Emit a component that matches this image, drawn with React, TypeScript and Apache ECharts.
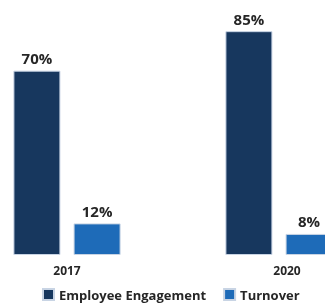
import React, { useEffect, useRef } from "react";
import * as echarts from "echarts";

const categories = ["2017", "2020"];
const engagement = [70, 85];
const turnover = [12, 8];
const seriesNames = ["Employee Engagement", "Turnover"];

export default function App() {
  const ref = useRef<HTMLDivElement>(null);
  useEffect(() => {
    const chart = echarts.init(ref.current!, null, { renderer: "svg" });
    const labelStyle = {
      show: true,
      position: "top",
      distance: 5,
      formatter: "{c}%",
      fontFamily: "Open Sans",
      fontWeight: "bold",
      fontSize: 15,
      color: "#262626",
    };
    chart.setOption({
      animation: false,
      grid: { left: 0, right: 0, top: 18, bottom: 48, containLabel: false },
      xAxis: {
        type: "category",
        data: [
          { value: categories[0] },
          { value: categories[1], textStyle: { padding: [0, 0, 0, 16] } },
        ],
        axisLine: { show: false },
        axisTick: { show: false },
        axisLabel: {
          margin: 9,
          fontFamily: "Open Sans",
          fontWeight: "bold",
          fontSize: 12,
          color: "#262626",
        },
      },
      yAxis: {
        type: "value",
        min: 0,
        max: 90,
        show: false,
        splitLine: { show: false },
      },
      legend: {
        left: 76,
        top: 283,
        itemWidth: 11,
        itemHeight: 11,
        itemGap: 17,
        icon: "rect",
        textStyle: {
          fontFamily: "Open Sans",
          fontWeight: "bold",
          fontSize: 13,
          color: "#262626",
        },
        data: seriesNames,
      },
      series: [
        {
          name: seriesNames[0],
          type: "bar",
          data: engagement,
          barWidth: 47,
          barGap: "28%",
          itemStyle: { color: "#17375e", borderColor: "#c8d4e4", borderWidth: 1 },
          label: labelStyle,
        },
        {
          name: seriesNames[1],
          type: "bar",
          data: turnover,
          barWidth: 47,
          itemStyle: { color: "#1e6bb8", borderColor: "#c8d4e4", borderWidth: 1 },
          label: labelStyle,
        },
      ],
    });
    return () => chart.dispose();
  }, []);
  return (
    <div
      style={{
        position: "fixed",
        left: 0,
        top: 0,
        width: 325,
        height: 303,
        overflow: "hidden",
      }}
    >
      <div
        ref={ref}
        style={{ position: "absolute", left: -39, top: 0, width: 424, height: 303 }}
      />
    </div>
  );
}
